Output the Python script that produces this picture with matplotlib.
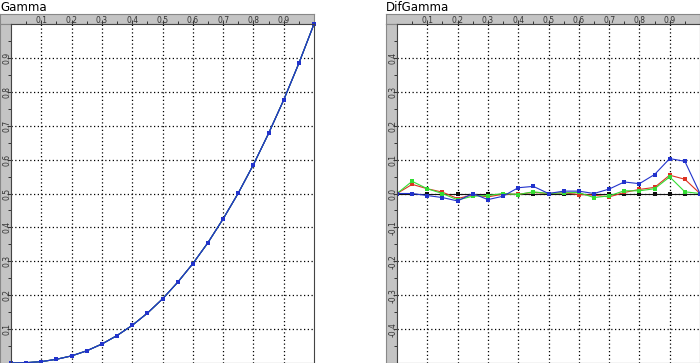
import matplotlib.pyplot as plt

# input levels 0 .. 1 in steps of 0.05
x = [0.0, 0.05, 0.1, 0.15, 0.2, 0.25, 0.3, 0.35, 0.4, 0.45, 0.5,
     0.55, 0.6, 0.65, 0.7, 0.75, 0.8, 0.85, 0.9, 0.95, 1.0]

# measured gamma curve (left chart, the four curves lie on top of each other)
gamma = [0.0, 0.001, 0.004, 0.011, 0.021, 0.036, 0.056, 0.081, 0.111, 0.147, 0.189,
         0.238, 0.293, 0.355, 0.425, 0.501, 0.585, 0.677, 0.776, 0.884, 1.0]

# differences (right chart)
dif_black = [0.0] * 21
dif_red = [0.0, 0.027, 0.014, 0.004, -0.015, -0.004, -0.010, -0.002, -0.002, 0.003, 0.0,
           0.002, -0.003, -0.005, -0.010, 0.003, 0.012, 0.018, 0.054, 0.042, 0.0]
dif_green = [0.0, 0.036, 0.014, 0.0, -0.019, -0.008, -0.006, 0.0, -0.003, 0.005, 0.0,
             0.002, 0.003, -0.012, -0.007, 0.008, 0.008, 0.014, 0.049, 0.005, 0.0]
dif_blue = [0.0, 0.0, -0.006, -0.012, -0.022, 0.0, -0.018, -0.008, 0.017, 0.021, 0.0,
            0.007, 0.007, 0.0, 0.013, 0.034, 0.029, 0.056, 0.103, 0.095, 0.0]

colors = ['#111111', '#dd3322', '#33dd33', '#2233cc']
difs = [dif_black, dif_red, dif_green, dif_blue]

tick_vals = [0.1, 0.2, 0.3, 0.4, 0.5, 0.6, 0.7, 0.8, 0.9]
tick_labels = ['0.1', '0.2', '0.3', '0.4', '0.5', '0.6', '0.7', '0.8', '0.9']

W, H = 700, 363
fig = plt.figure(figsize=(7, 3.63), dpi=100)


def px(x0, y0, w, h):
    # pixel box (top-left origin) -> figure fraction
    return [x0 / W, 1 - (y0 + h) / H, w / W, h / H]


def panel(x0, title, yticks, ylim):
    # gray rulers
    top = fig.add_axes(px(x0, 14, 314, 10))
    left = fig.add_axes(px(x0, 24, 11, 339))
    for r in (top, left):
        r.set_facecolor('#c4c4c4')
        r.set_xticks([])
        r.set_yticks([])
        for s in r.spines.values():
            s.set_color('#888888')
            s.set_linewidth(0.8)

    ax = fig.add_axes(px(x0 + 11, 24, 303, 339))
    ax.set_xlim(0, 1)
    ax.set_ylim(*ylim)
    ax.set_xticks(tick_vals, tick_labels)
    ax.set_xticks([0.05 + 0.1 * i for i in range(10)], minor=True)
    ax.set_yticks(yticks, [f'{v:.1f}' for v in yticks])
    ax.set_yticks([v + 0.05 for v in [ylim[0] + 0.1 * i for i in range(10)]], minor=True)
    ax.tick_params(axis='x', which='both', top=True, bottom=False, labeltop=True,
                   labelbottom=False, direction='out', length=3, width=0.7,
                   pad=-3.5, labelsize=5.5, colors='#333333')
    ax.tick_params(axis='x', which='minor', length=2)
    ax.tick_params(axis='y', which='both', left=True, labelleft=True, direction='out',
                   length=3, width=0.7, pad=-3.5, labelsize=5.5, labelrotation=90,
                   colors='#333333')
    ax.tick_params(axis='y', which='minor', length=2)
    for lab in ax.get_yticklabels():
        lab.set_va('center')
    ax.grid(True, color='black', linestyle=(0, (1, 2)), linewidth=0.9)
    for s in ax.spines.values():
        s.set_color('#444444')
        s.set_linewidth(0.8)
    fig.text(x0 / W, 1 - 11 / H, title, fontsize=8.5, ha='left', va='baseline')
    return ax


ax1 = panel(0, 'Gamma', [0.1, 0.2, 0.3, 0.4, 0.5, 0.6, 0.7, 0.8, 0.9], (0, 1))
ax2 = panel(386, 'DifGamma', [-0.4, -0.3, -0.2, -0.1, 0.0, 0.1, 0.2, 0.3, 0.4], (-0.5, 0.5))

for col in ['#111111', '#2a8f5a', '#2a7a9a', '#2233cc']:
    ax1.plot(x, gamma, color=col, linewidth=0.8, marker='s', markersize=2.5,
             markeredgewidth=0, clip_on=False)

for dif, col in zip(difs, colors):
    ax2.plot(x, dif, color=col, linewidth=0.8, marker='s', markersize=2.5,
             markeredgewidth=0)

fig.savefig('out.png', dpi=100)
